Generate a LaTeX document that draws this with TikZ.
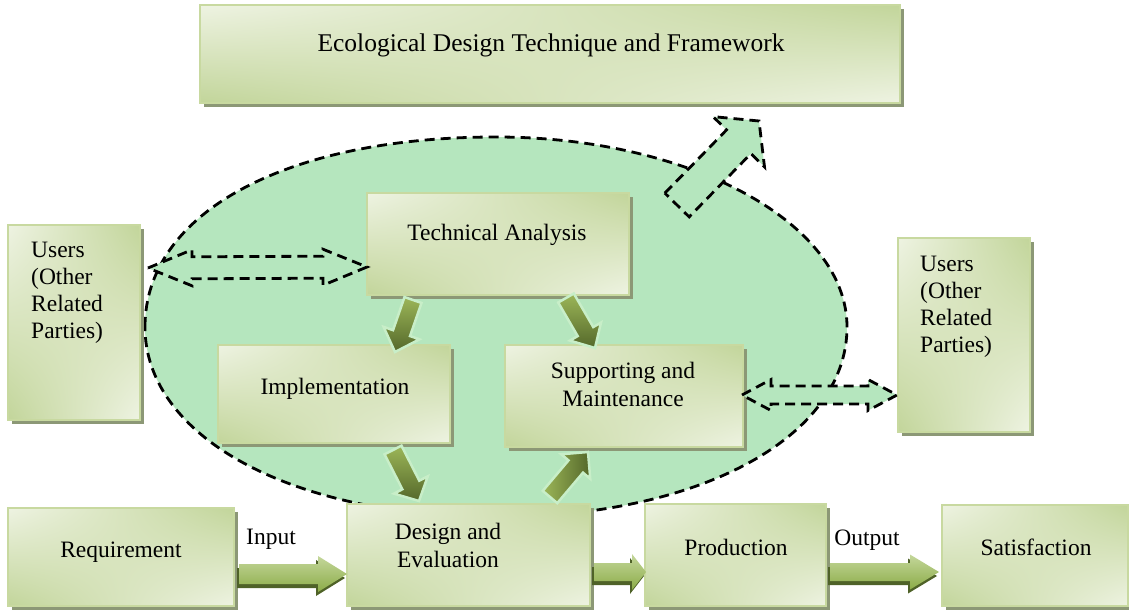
\documentclass[tikz,border=0pt]{standalone}
\usepackage{fontspec}
\setmainfont{Liberation Serif}
\usetikzlibrary{calc,shadings,shadows}

\definecolor{mint}{RGB}{181,230,190}
\definecolor{boxlight}{RGB}{238,243,226}
\definecolor{boxolive}{RGB}{194,213,154}
\definecolor{boxedge}{RGB}{200,217,160}
\definecolor{boxshadow}{RGB}{140,152,118}
\definecolor{arrlight}{RGB}{196,215,155}
\definecolor{arrmid}{RGB}{140,172,72}
\definecolor{arrdark}{RGB}{79,98,40}
\definecolor{diaglight}{RGB}{156,182,88}
\definecolor{diagdark}{RGB}{84,104,42}
\definecolor{glow}{RGB}{200,238,200}

% single block arrow: style, tail, tip, shaft half, head half, head length
\newcommand\mksgl[6]{%
  \coordinate (hh) at ($(#3)!#6!(#2)$);
  \path[#1] ($(#2)!#4!90:(#3)$) -- ($(hh)!#4!90:(#3)$) -- ($(hh)!#5!90:(#3)$) -- (#3)
    -- ($(hh)!#5!-90:(#3)$) -- ($(hh)!#4!-90:(#3)$) -- ($(#2)!#4!-90:(#3)$) -- cycle;}
% double block arrow: style, tip A, tip B, shaft half, head half, head length
\newcommand\mkdbl[6]{%
  \coordinate (ha) at ($(#2)!#6!(#3)$);
  \coordinate (hb) at ($(#3)!#6!(#2)$);
  \path[#1] (#2) -- ($(ha)!#5!90:(#3)$) -- ($(ha)!#4!90:(#3)$) -- ($(hb)!#4!90:(#3)$)
    -- ($(hb)!#5!90:(#3)$) -- (#3) -- ($(hb)!#5!-90:(#3)$) -- ($(hb)!#4!-90:(#3)$)
    -- ($(ha)!#4!-90:(#3)$) -- ($(ha)!#5!-90:(#3)$) -- cycle;}

\begin{document}
\begin{tikzpicture}[x=1pt,y=-1pt,
  gbox/.style={draw=boxedge, line width=1.4pt, upper left=boxlight, upper right=boxolive,
    lower left=boxolive, lower right=boxlight, inner sep=0pt,
    general shadow={fill=boxshadow, shadow xshift=4pt, shadow yshift=-4pt}},
  txt/.style={inner sep=0pt, align=center, font=\fontsize{23.5}{28}\selectfont},
  utxt/.style={inner sep=0pt, align=left, font=\fontsize{23.5}{27}\selectfont},
  dashblk/.style={fill=mint, draw=black, line width=2.8pt, dash pattern=on 10pt off 6pt},
  hshadow/.style={fill=arrdark, transform canvas={shift={(-2pt,-4pt)}}},
  hgreen/.style={top color=arrlight, bottom color=arrmid},
  dgreen/.style={draw=glow, line width=2.5pt, top color=diaglight, bottom color=diagdark},
  dgreenr/.style={draw=glow, line width=2.5pt, left color=diaglight, right color=diagdark}]
\useasboundingbox (0,0) rectangle (1129,610);

% cycle region
\path[dashblk] (145,327) .. controls (145,213) and (285.4,137) .. (496,137)
  .. controls (689,137) and (847,222.5) .. (847,327)
  .. controls (847,437.2) and (699.6,517) .. (496,517)
  .. controls (292.4,517) and (145,437.2) .. cycle;

% boxes
\node[gbox, minimum width=700pt, minimum height=98pt] (top) at (550,54) {};
\node[gbox, minimum width=132pt, minimum height=195pt] (usersL) at (74,322.5) {};
\node[gbox, minimum width=132pt, minimum height=194pt] (usersR) at (964,335) {};
\node[gbox, minimum width=262pt, minimum height=102pt] (ta) at (498,244) {};
\node[gbox, minimum width=232pt, minimum height=98pt] (impl) at (334,394) {};
\node[gbox, minimum width=238pt, minimum height=102pt] (sm) at (624,396) {};

% dashed block arrows
\coordinate (uLa) at (148,268);
\coordinate (uLb) at (367,267);
\mkdbl{dashblk}{uLa}{uLb}{11pt}{18pt}{44pt}
\coordinate (uRa) at (742,395);
\coordinate (uRb) at (897,395);
\mkdbl{dashblk}{uRa}{uRb}{9pt}{15.5pt}{29pt}
\coordinate (upA) at (677,205);
\coordinate (upB) at (759,121);
\mksgl{dashblk}{upA}{upB}{17pt}{36pt}{29pt}

% bottom boxes
\node[gbox, minimum width=226pt, minimum height=98pt] (req) at (121,557) {};
\node[gbox, minimum width=243pt, minimum height=102pt] (de) at (468.5,555) {};
\node[gbox, minimum width=181pt, minimum height=102pt] (prod) at (735.5,555) {};
\node[gbox, minimum width=186pt, minimum height=101pt] (sat) at (1035,555.5) {};

% diagonal green arrows
\coordinate (aA) at (413,300); \coordinate (aB) at (395,352);
\mksgl{dgreen}{aA}{aB}{9pt}{19pt}{20pt}
\coordinate (bA) at (566,298); \coordinate (bB) at (595,348);
\mksgl{dgreen}{bA}{bB}{9pt}{18pt}{19pt}
\coordinate (cA) at (393,450); \coordinate (cB) at (419,501);
\mksgl{dgreen}{cA}{cB}{9.5pt}{19pt}{18pt}
\coordinate (dA) at (550,497); \coordinate (dB) at (588,452);
\mksgl{dgreenr}{dA}{dB}{9.5pt}{19pt}{19pt}

% horizontal green arrows
\coordinate (inA) at (239,574); \coordinate (inB) at (347,574);
\mksgl{hshadow}{inA}{inB}{10pt}{18pt}{29pt}
\mksgl{hgreen}{inA}{inB}{10pt}{18pt}{29pt}
\coordinate (mdA) at (594,572); \coordinate (mdB) at (646,572);
\mksgl{hshadow}{mdA}{mdB}{9pt}{18pt}{14pt}
\mksgl{hgreen}{mdA}{mdB}{9pt}{18pt}{14pt}
\coordinate (ouA) at (830,572); \coordinate (ouB) at (939,572);
\mksgl{hshadow}{ouA}{ouB}{9pt}{17.5pt}{29pt}
\mksgl{hgreen}{ouA}{ouB}{9pt}{17.5pt}{29pt}

% texts
\node[txt, font=\fontsize{25.5}{30}\selectfont] (top-t) at (551,45) {Ecological Design Technique and Framework};
\node[utxt, anchor=west] (ul-t) at (31,293) {Users\\(Other\\Related\\Parties)};
\node[utxt, anchor=west] (ur-t) at (920,307) {Users\\(Other\\Related\\Parties)};
\node[txt] (ta-t) at (497,235) {Technical Analysis};
\node[txt] (im-t) at (335,389) {Implementation};
\node[txt] (sm-t) at (623,384) {Supporting and\\Maintenance};
\node[txt] (rq-t) at (121,552) {Requirement};
\node[txt] (in-t) at (271,539) {Input};
\node[txt] (de-t) at (448,545) {Design and\\Evaluation};
\node[txt] (pr-t) at (736,547) {Production};
\node[txt] (ou-t) at (867,540) {Output};
\node[txt] (sa-t) at (1036,547) {Satisfaction};
\end{tikzpicture}
\end{document}
